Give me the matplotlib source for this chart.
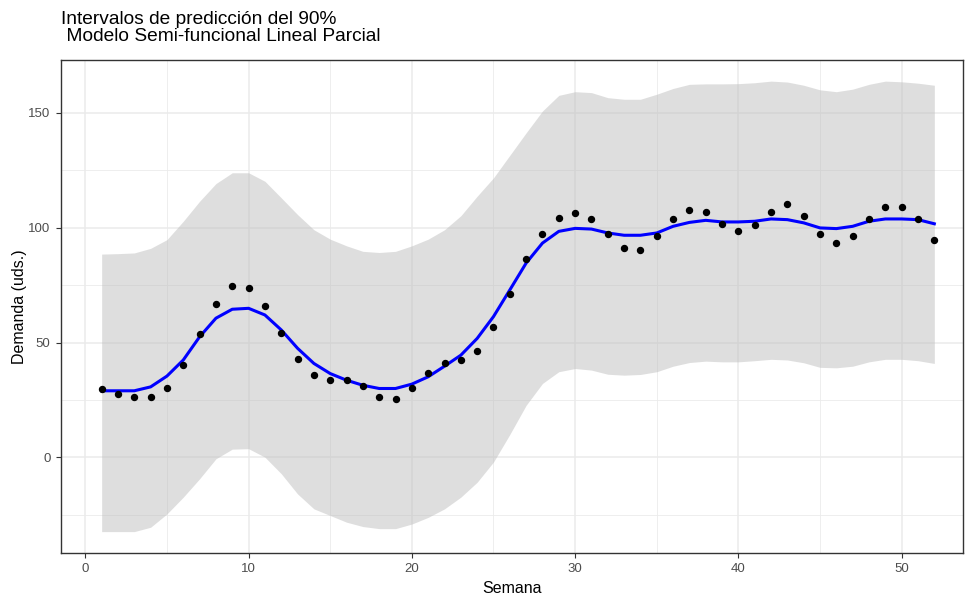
import numpy as np
import matplotlib.pyplot as plt
from matplotlib.ticker import MultipleLocator

# Weekly demand (points), fitted SFPLM curve and 90% prediction band
semana = np.arange(1, 53)

demanda = [29.7, 27.6, 26.2, 26.2, 30.3, 40.2, 53.6, 66.7, 74.5, 73.9,
           66.1, 54.1, 42.8, 35.7, 33.6, 33.6, 31.0, 26.3, 25.6, 30.3,
           36.8, 41.0, 42.2, 46.2, 56.8, 71.3, 86.5, 97.2, 104.4, 106.4,
           103.8, 97.2, 91.1, 90.5, 96.2, 103.8, 107.7, 107.0, 101.6, 98.4,
           101.0, 107.0, 110.3, 105.1, 97.1, 93.2, 96.5, 103.8, 109.0, 109.0,
           103.8, 94.5]

ajuste = [29.0, 29.0, 29.0, 30.7, 35.4, 42.4, 52.5, 60.6, 64.5, 64.9,
          62.0, 55.5, 47.5, 40.9, 36.5, 33.6, 31.4, 30.0, 30.0, 31.9,
          35.1, 39.7, 44.5, 51.8, 61.3, 72.9, 84.6, 93.3, 98.4, 99.7,
          99.4, 97.7, 96.7, 96.7, 97.7, 100.6, 102.3, 103.2, 102.5, 102.5,
          102.8, 103.8, 103.5, 102.1, 99.9, 99.6, 100.6, 102.8, 103.8, 103.8,
          103.5, 101.7]

superior = [88.5, 88.7, 89.0, 91.0, 94.8, 102.8, 111.5, 119.2, 123.9, 123.9,
            120.2, 113.0, 105.7, 99.1, 95.0, 92.1, 89.7, 89.2, 89.7, 92.1,
            95.0, 99.1, 105.2, 113.7, 121.7, 131.5, 141.3, 150.8, 157.6, 159.2,
            158.8, 156.6, 155.9, 155.9, 158.1, 160.6, 162.4, 162.6, 162.6, 162.7,
            163.1, 163.8, 163.4, 162.0, 160.0, 159.2, 160.3, 162.4, 163.8, 163.5,
            162.9, 162.0]

inferior = [-32.3, -32.3, -32.3, -30.4, -24.6, -17.3, -9.3, -0.6, 3.6, 3.8,
            0.1, -7.1, -15.9, -22.4, -25.3, -28.2, -30.1, -31.0, -31.0, -29.0,
            -26.1, -22.4, -17.3, -10.8, -2.0, 10.0, 22.7, 32.2, 37.3, 38.7,
            38.0, 36.2, 35.8, 36.1, 37.3, 39.7, 41.3, 41.9, 41.6, 41.6,
            42.1, 42.7, 42.4, 41.2, 39.2, 39.0, 39.7, 41.6, 42.7, 42.7,
            42.1, 40.9]

plt.rcParams['font.family'] = ['Liberation Sans', 'DejaVu Sans']

fig = plt.figure(figsize=(9.65, 5.98), dpi=100)
ax = fig.add_axes([0.0632, 0.0753, 0.9348, 0.824])

ax.fill_between(semana, inferior, superior, color="#BEBEBE", alpha=0.5,
                linewidth=0, zorder=2)
ax.plot(semana, ajuste, color="blue", linewidth=2.2, zorder=3)
ax.plot(semana, demanda, 'o', color="black", markersize=4.3, zorder=4)

ax.set_xlim(-1.49, 53.76)
ax.set_ylim(-41.6, 172.9)
ax.xaxis.set_major_locator(MultipleLocator(10))
ax.xaxis.set_minor_locator(MultipleLocator(5))
ax.yaxis.set_major_locator(MultipleLocator(50))
ax.yaxis.set_minor_locator(MultipleLocator(25))

ax.grid(which='major', color="#EBEBEB", linewidth=1.1, zorder=0)
ax.grid(which='minor', color="#EBEBEB", linewidth=0.6, zorder=0)
ax.set_axisbelow(True)

for s in ax.spines.values():
    s.set_color("#333333")
    s.set_linewidth(1.0)

ax.tick_params(which='major', length=3.5, width=0.8, color="#333333",
               labelcolor="#4D4D4D", labelsize=9.5, pad=4)
ax.tick_params(which='minor', length=0)

ax.set_xlabel("Semana", fontsize=11.5, labelpad=4)
ax.set_ylabel("Demanda (uds.)", fontsize=11.5, labelpad=1)

fig.text(0.0632, 0.982,
         "Intervalos de predicción del 90%\n Modelo Semi-funcional Lineal Parcial",
         ha='left', va='top', fontsize=13.8, linespacing=1.05)

fig.savefig("out.png", dpi=100)
